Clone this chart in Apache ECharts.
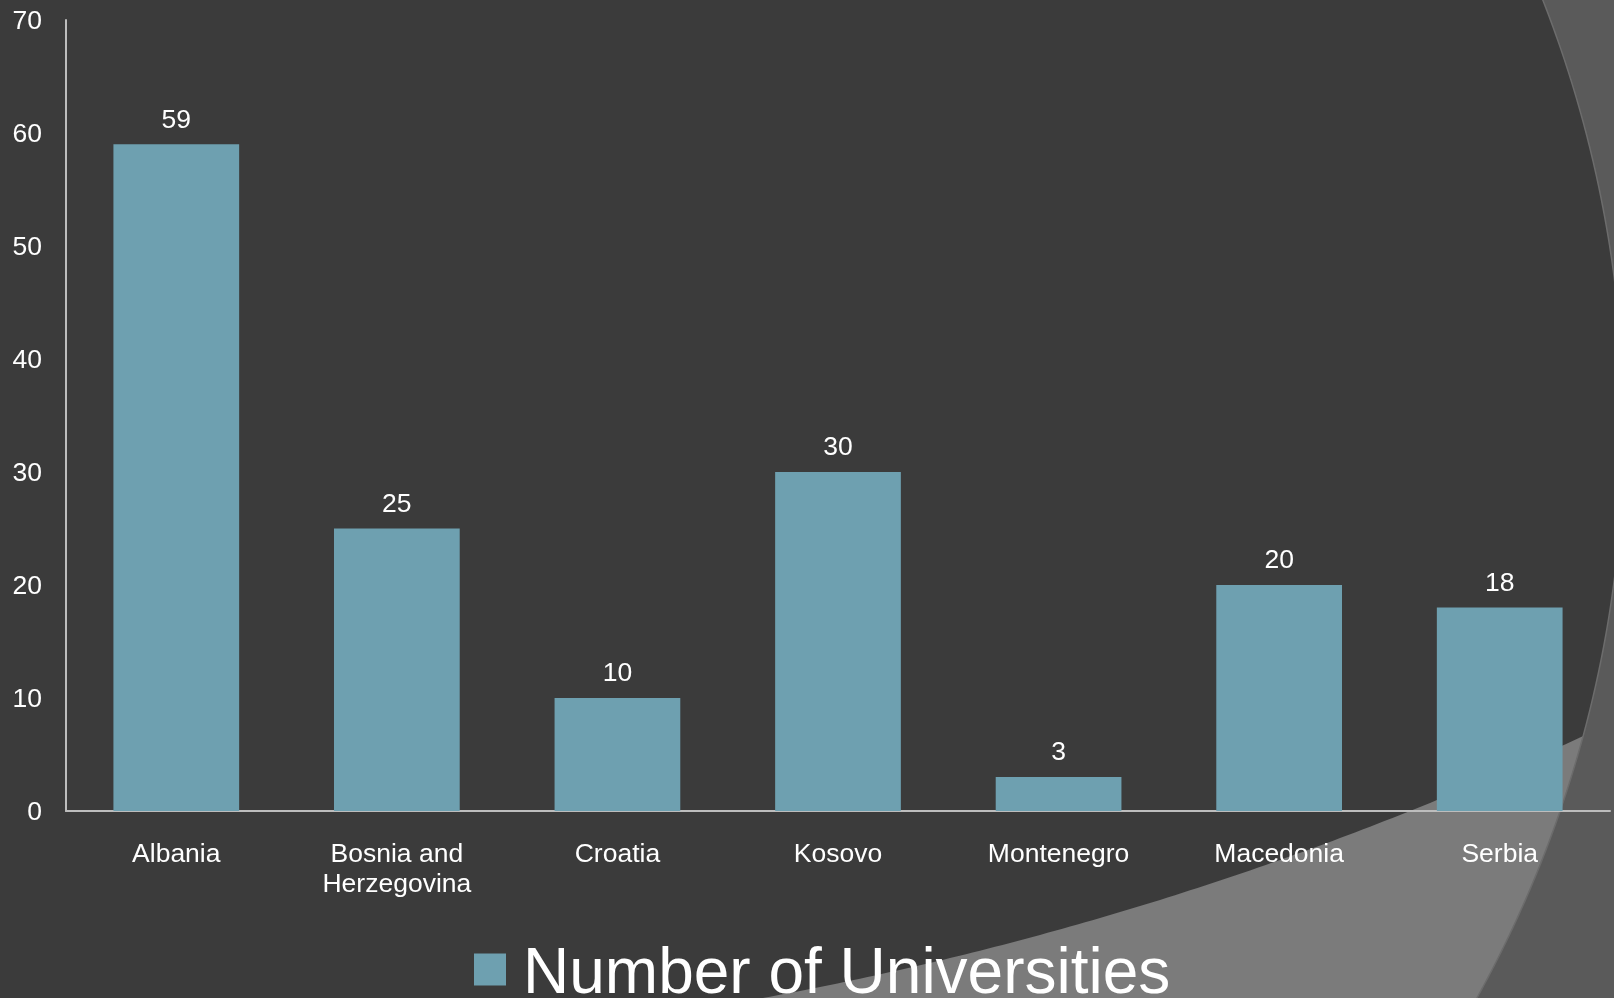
<!DOCTYPE html>
<html>
<head>
<meta charset="utf-8">
<title>Number of Universities</title>
<script src="https://cdn.jsdelivr.net/npm/echarts@6/dist/echarts.min.js"></script>
<style>
  html, body { margin: 0; padding: 0; background: #3b3b3b; }
  #chart { width: 1614px; height: 998px; }
</style>
</head>
<body>
<div id="chart"></div>
<script>
// Universities per country in the Western Balkans
const countries = ['Albania', 'Bosnia and\nHerzegovina', 'Croatia', 'Kosovo', 'Montenegro', 'Macedonia', 'Serbia'];
const universities = [59, 25, 10, 30, 3, 20, 18];
const seriesName = 'Number of Universities';
const yTicks = { min: 0, max: 70, interval: 10 };

const FONT = '"Liberation Sans", Arial, sans-serif';
const BAR = '#6ea0b0';
const TEXT = '#ffffff';
const LABEL_SIZE = 26.5;

// Background swooshes: two large circular arcs sampled into polygons
function arcByX(cx, cy, r, x0, x1, steps) {
  const pts = [];
  for (let i = 0; i <= steps; i++) {
    const x = x0 + (x1 - x0) * i / steps;
    pts.push([x, cy + Math.sqrt(Math.max(0, r * r - (x - cx) * (x - cx)))]);
  }
  return pts;
}
function arcByY(cx, cy, r, y0, y1, steps) {
  const pts = [];
  for (let i = 0; i <= steps; i++) {
    const y = y0 + (y1 - y0) * i / steps;
    pts.push([cx + Math.sqrt(Math.max(0, r * r - (y - cy) * (y - cy))), y]);
  }
  return pts;
}
const lowerSwoosh = arcByX(149, -2339, 3393, 740, 1640, 120).concat([[1640, 1010], [740, 1010]]);
const rightEdge = arcByY(450, 429, 1174, -10, 1010, 160);
const rightSwoosh = rightEdge.concat([[1700, 1010], [1700, -10]]);

const chart = echarts.init(document.getElementById('chart'), null, { renderer: 'canvas' });

chart.setOption({
  backgroundColor: '#3b3b3b',
  animation: false,
  textStyle: { fontFamily: FONT },
  graphic: {
    elements: [
      {
        type: 'polygon',
        z: -10,
        silent: true,
        shape: { points: lowerSwoosh },
        style: { fill: '#7b7b7b' }
      },
      {
        type: 'polygon',
        z: -9,
        silent: true,
        shape: { points: rightSwoosh },
        style: { fill: '#5a5a5a' }
      },
      {
        type: 'polyline',
        z: -8,
        silent: true,
        shape: { points: rightEdge },
        style: { stroke: '#6c6c6c', lineWidth: 1.5, fill: null }
      }
    ]
  },
  grid: { left: 66, top: 20, right: 4, bottom: 187, containLabel: false },
  legend: {
    data: [seriesName],
    left: 474,
    top: 932,
    padding: 0,
    icon: 'rect',
    itemWidth: 32,
    itemHeight: 32,
    formatter: '{t|{name}}',
    textStyle: {
      color: TEXT,
      fontFamily: FONT,
      rich: {
        t: {
          color: TEXT,
          fontSize: 64,
          lineHeight: 64,
          fontFamily: FONT,
          padding: [11, 0, 0, 12]
        }
      }
    }
  },
  xAxis: {
    type: 'category',
    data: countries,
    axisLine: { show: true, lineStyle: { color: '#bdbdbd', width: 2 } },
    axisTick: { show: false },
    axisLabel: {
      interval: 0,
      color: TEXT,
      fontSize: LABEL_SIZE,
      lineHeight: 30,
      margin: 29,
      fontFamily: FONT
    }
  },
  yAxis: {
    type: 'value',
    min: yTicks.min,
    max: yTicks.max,
    interval: yTicks.interval,
    axisLine: { show: true, lineStyle: { color: '#bdbdbd', width: 2 } },
    axisTick: { show: false },
    splitLine: { show: false },
    axisLabel: {
      color: TEXT,
      margin: 24,
      formatter: '{v|{value}}',
      rich: {
        v: {
          color: TEXT,
          fontSize: LABEL_SIZE,
          fontFamily: FONT,
          lineHeight: 26,
          padding: [4, 0, 0, 0]
        }
      }
    }
  },
  series: [{
    name: seriesName,
    type: 'bar',
    data: universities,
    barWidth: '57%',
    itemStyle: { color: BAR },
    label: {
      show: true,
      position: 'top',
      distance: 11,
      color: TEXT,
      fontSize: LABEL_SIZE,
      lineHeight: 26,
      fontFamily: FONT
    }
  }]
});
</script>
</body>
</html>
